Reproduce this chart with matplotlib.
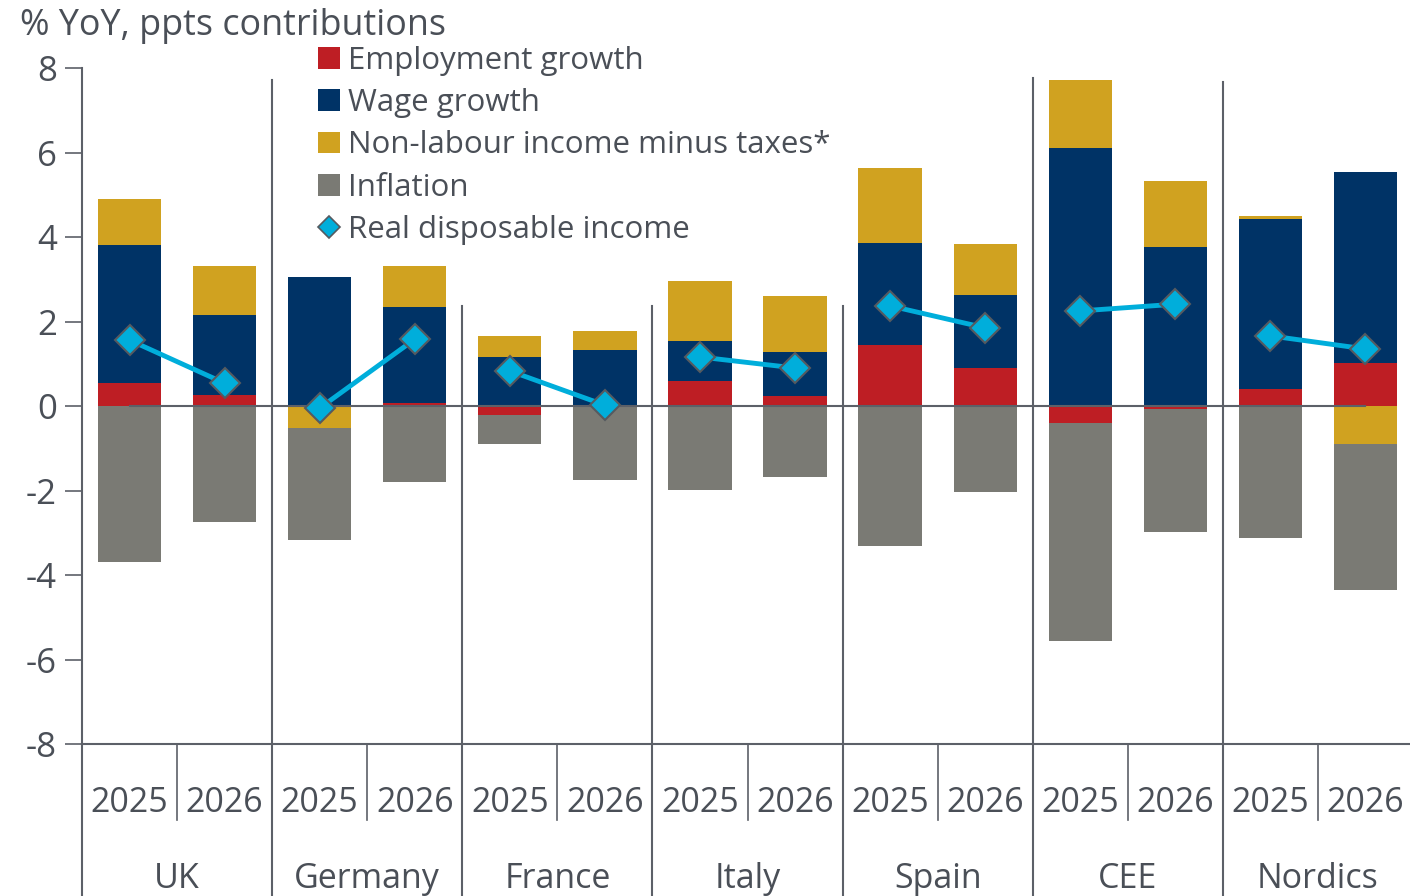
import matplotlib
matplotlib.use("Agg")
from matplotlib import pyplot as plt
from matplotlib.patches import Patch
from matplotlib.lines import Line2D
import numpy as np

plt.rcParams['font.family'] = ['Open Sans', 'DejaVu Sans']
plt.rcParams['axes.unicode_minus'] = False

countries = ["UK", "Germany", "France", "Italy", "Spain", "CEE", "Nordics"]
years = ["2025", "2026"]

employment = [0.54, 0.26, 0.0, 0.07, -0.21, -0.03, 0.59, 0.24, 1.44, 0.90, -0.40, -0.07, 0.40, 1.02]
wage = [3.27, 1.89, 3.05, 2.27, 1.16, 1.33, 0.95, 1.04, 2.42, 1.73, 6.11, 3.76, 4.03, 4.52]
non_labour = [1.09, 1.16, -0.52, 0.97, 0.50, 0.45, 1.42, 1.32, 1.77, 1.20, 1.61, 1.57, 0.07, -0.90]
inflation = [-3.69, -2.75, -2.65, -1.80, -0.69, -1.72, -1.99, -1.68, -3.31, -2.04, -5.16, -2.91, -3.12, -3.46]
real_income = [1.56, 0.54, -0.05, 1.58, 0.83, 0.02, 1.16, 0.90, 2.37, 1.85, 2.25, 2.41, 1.66, 1.35]

text_col = '#4a4f57'
line_col = '#5c6068'
colors = ['#be1e24', '#003366', '#d0a220', '#7a7a74']
names = ["Employment growth", "Wage growth", "Non-labour income minus taxes*", "Inflation"]

fig = plt.figure(figsize=(14.1, 8.96), dpi=100)
ax = fig.add_axes([82 / 1410, (896 - 744) / 896, (1413 - 82) / 1410, 676 / 896])

x = np.arange(len(wage))
pos_base = np.zeros(len(x))
neg_base = np.zeros(len(x))
for vals, c in zip([employment, wage, non_labour, inflation], colors):
    v = np.array(vals)
    base = np.where(v >= 0, pos_base, neg_base)
    ax.bar(x, v, bottom=base, width=0.665, color=c, zorder=2)
    pos_base += np.where(v >= 0, v, 0)
    neg_base += np.where(v < 0, v, 0)

# zero line
ax.plot([0, 13], [0, 0], color=line_col, lw=1.5, zorder=3)

# real disposable income, joined within each country
for i in range(len(countries)):
    xs = x[2 * i:2 * i + 2]
    ys = real_income[2 * i:2 * i + 2]
    ax.plot(xs, ys, color='#00aedb', lw=3.5, zorder=4)
    ax.plot(xs, ys, ls='none', marker='D', ms=15, mfc='#00aedb', mec='#555a60', mew=1.5, zorder=5)

ax.set_xlim(-0.5, 13.5)
ax.set_ylim(-8, 8)
ax.set_yticks(range(-8, 9, 2))
ax.set_xticks([])
ax.tick_params(axis='y', direction='out', length=12, width=1.2, color=line_col,
               labelsize=25, labelcolor=text_col, pad=6)
for s in ['top', 'right']:
    ax.spines[s].set_visible(False)
for s in ['left', 'bottom']:
    ax.spines[s].set_color(line_col)
    ax.spines[s].set_linewidth(1.5)

# separators between countries
sep_tops = [7.72, 2.37, 2.37, 2.37, 7.77, 7.68]
bottom_y = -8 - 152 / 42.25
for k, top in enumerate(sep_tops):
    xp = 2 * k + 1.5
    ax.plot([xp, xp], [top, bottom_y], color=line_col, lw=1.5, clip_on=False, zorder=1)
ax.plot([-0.5, -0.5], [-8, bottom_y], color=line_col, lw=1.5, clip_on=False)

# year dividers and labels
for k in range(len(countries)):
    xp = 2 * k + 0.5
    ax.plot([xp, xp], [-8, -8 - 76 / 42.25], color=line_col, lw=1.2, clip_on=False)
    for j, yr in enumerate(years):
        ax.text(2 * k + j, -8 - 59 / 42.25, yr, ha='center', va='center',
                fontsize=24.5, color=text_col, clip_on=False)
    ax.text(2 * k + 0.5, -8 - 135 / 42.25, countries[k], ha='center', va='center',
            fontsize=24.5, color=text_col, clip_on=False)

fig.text(20 / 1410, 1 - 26 / 896, "% YoY, ppts contributions", ha='left', va='center',
         fontsize=25.8, color=text_col)

handles = [Patch(facecolor=c, edgecolor='none') for c in colors]
handles.append(Line2D([], [], ls='none', marker='D', ms=11, mfc='#00aedb', mec='#555a60', mew=1.2))
leg = ax.legend(handles, names + ["Real disposable income"], loc='upper left',
                bbox_to_anchor=((318 - 82) / 1331, 1 + 22 / 676), frameon=False,
                fontsize=22.5, handlelength=0.7, handleheight=0.7, handletextpad=0.25,
                labelspacing=0.39, borderaxespad=0, borderpad=0)
for t in leg.get_texts():
    t.set_color(text_col)

fig.savefig("out.png", dpi=100)
